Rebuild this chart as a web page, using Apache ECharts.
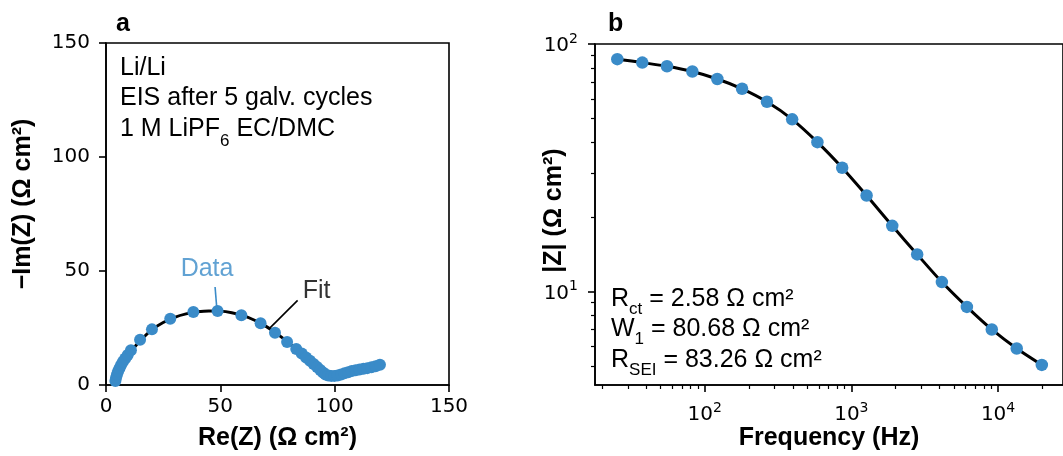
<!DOCTYPE html>
<html><head><meta charset="utf-8">
<script src="https://cdn.jsdelivr.net/npm/echarts@6/dist/echarts.min.js"></script>
<style>html,body{margin:0;padding:0;background:#fff}#c{width:1063px;height:456px}</style>
</head><body><div id="c"></div>
<script>
// ---- Panel a: Nyquist ----
const nyqRe = [4.1,4.4,4.8,5.3,5.9,6.6,7.4,8.4,9.5,10.9,14.9,20.1,28.1,38.2,48.8,59.2,67.6,73.9,79.2,83.2,85.6,87.5,89.2,90.8,92.3,93.7,94.9,96.0,97.2,98.5,99.9,101.3,102.8,104.3,105.9,107.5,109.2,110.9,112.6,114.3,116.1,117.9,119.8];
const nyqIm = [1.8,3.2,4.6,6.0,7.4,8.8,10.2,11.6,13.2,15.2,19.8,24.4,29.1,32.0,32.5,30.6,27.1,22.9,18.9,15.8,13.8,12.1,10.6,9.2,7.9,6.6,5.5,4.6,4.2,4.0,4.0,4.2,4.6,5.1,5.6,6.1,6.5,6.8,7.1,7.4,7.8,8.2,8.9];
const fitRe = [3.9,4.3,5.0,6.0,7.5,9.5,12,15,20,25,30,35,40,45,50,55,60,65,70,75,80,85,90,94,97,100,104,108,112,116,120];
const fitIm = [0.8,2.8,5.2,7.8,10.4,13.0,16.0,19.5,24.2,27.4,29.7,31.2,32.1,32.5,32.4,31.7,30.4,28.4,25.7,22.3,18.4,14.2,9.6,6.2,4.3,3.9,4.8,6.2,7.1,7.9,8.9];
const nyqTicks = [0,50,100,150];
const annotText = ['Data','Fit'];
const annotTextPos = [[44.2,50.9],[92.1,41.2]];
const annotLeaders = [[[47.7,43.0],[48.4,34.3]], [[83.8,37.1],[71.4,24.7]]];
const infoA = ['Li/Li','EIS after 5 galv. cycles',['1 M LiPF','6',' EC/DMC']];

// ---- Panel b: Bode |Z| ----
const bodeFreq = [25.4,37.6,55.4,82.5,122,180,266,395,587,866,1270,1900,2810,4140,6130,9060,13400,19860];
const bodeZ = [86.8,84.1,81.3,77.4,72.2,65.9,58.4,49.6,40.1,31.6,24.4,18.4,14.1,10.9,8.65,7.01,5.87,5.04];
const bodeFitZ = [86.8,84.1,81.3,77.4,72.2,65.9,58.4,49.6,40.1,31.6,24.4,18.4,14.1,10.9,8.65,7.01,5.87,5.04];
const bodeXMajor = [100,1000,10000];
const bodeXMinor = [20,30,40,50,60,70,80,90,200,300,400,500,600,700,800,900,2000,3000,4000,5000,6000,7000,8000,9000,20000];
const bodeYMajor = [10,100];
const bodeYMinor = [5,6,7,8,9,20,30,40,50,60,70,80,90];
const bodeXRange = [17.9,27700];
const bodeYRange = [4.18,100];
const infoB = [['R','ct',' = 2.58 Ω cm²'],['W','1',' = 80.68 Ω cm²'],['R','SEI',' = 83.26 Ω cm²']];

const BLUE = '#3a8bc8';
const SANS = 'Liberation Sans';
const TICKF = 'DejaVu Sans';
const chart = echarts.init(document.getElementById('c'), null, {renderer:'canvas'});

const axLine = {show:true, onZero:false, lineStyle:{color:'#000', width:1.6}};
const majTick = {show:true, length:7, inside:false, lineStyle:{color:'#000', width:1.6}};
const minTick = {show:true, length:4, inside:false, lineStyle:{color:'#000', width:1.2}};
const tickLbl = {color:'#000', fontFamily:TICKF, fontSize:20};
const nameSt = {color:'#000', fontFamily:SANS, fontWeight:'bold', fontSize:25};
const powRich = {
  m:{fontFamily:TICKF, fontSize:20, color:'#000', lineHeight:24, verticalAlign:'bottom'},
  s:{fontFamily:TICKF, fontSize:14, color:'#000', lineHeight:14, verticalAlign:'top'}
};
const powFmt = v => '{m|10}{s|' + Math.round(Math.log10(v)) + '}';

const txtRich = (lineH) => ({
  m:{fontFamily:SANS, fontSize:25, color:'#000', lineHeight:26, verticalAlign:'top'},
  s:{fontFamily:SANS, fontSize:17, color:'#000', lineHeight:lineH, verticalAlign:'bottom'}
});

const graphics = [
  {type:'text', left:116, top:12, style:{text:'a', fontFamily:SANS, fontWeight:'bold', fontSize:25, fill:'#000'}},
  {type:'text', left:608, top:12, style:{text:'b', fontFamily:SANS, fontWeight:'bold', fontSize:25, fill:'#000'}},
  {type:'text', left:120, top:56, style:{text:'{m|'+infoA[0]+'}', rich:txtRich(26)}},
  {type:'text', left:120, top:86, style:{text:'{m|'+infoA[1]+'}', rich:txtRich(26)}},
  {type:'text', left:120, top:117, style:{text:'{m|'+infoA[2][0]+'}{s|'+infoA[2][1]+'}{m|'+infoA[2][2]+'}', rich:txtRich(33)}},
];
const infoBTops = [287, 317, 347.5];
infoB.forEach((p,i) => graphics.push({type:'text', left:611, top:infoBTops[i],
  style:{text:'{m|'+p[0]+'}{s|'+p[1]+'}{m|'+p[2]+'}', rich:txtRich(31)}}));

const option = {
  animation:false,
  backgroundColor:'#fff',
  grid:[
    {left:106, top:43, width:343, height:344, show:true, borderColor:'#000', borderWidth:1.6, containLabel:false},
    {left:595, top:44, width:480, height:343, show:true, borderColor:'#000', borderWidth:1.6, containLabel:false}
  ],
  xAxis:[
    {gridIndex:0, type:'value', min:0, max:150, interval:50, axisLine:axLine, axisTick:majTick,
     axisLabel:Object.assign({margin:12, customValues:nyqTicks}, tickLbl), splitLine:{show:false},
     name:'Re(Z) (Ω cm²)', nameLocation:'middle', nameGap:41, nameMoveOverlap:false, nameTextStyle:nameSt},
    {gridIndex:1, type:'log', logBase:10, min:bodeXRange[0], max:bodeXRange[1], axisLine:axLine,
     axisTick:Object.assign({customValues:bodeXMajor}, majTick),
     axisLabel:{margin:16, customValues:bodeXMajor, formatter:powFmt, rich:powRich},
     splitLine:{show:false}, minorTick:{show:false},
     name:'Frequency (Hz)', nameLocation:'middle', nameGap:41, nameMoveOverlap:false, nameTextStyle:nameSt},
    {gridIndex:1, type:'log', logBase:10, min:bodeXRange[0], max:bodeXRange[1], position:'bottom',
     axisLine:{show:false}, axisTick:Object.assign({customValues:bodeXMinor}, minTick),
     axisLabel:{show:false}, splitLine:{show:false}}
  ],
  yAxis:[
    {gridIndex:0, type:'value', min:0, max:150, interval:50, axisLine:axLine, axisTick:majTick,
     axisLabel:Object.assign({margin:16, customValues:nyqTicks}, tickLbl), splitLine:{show:false},
     name:'−Im(Z) (Ω cm²)', nameLocation:'middle', nameGap:70, nameMoveOverlap:false,
     nameTextStyle:Object.assign({padding:[0,0,0,20]}, nameSt)},
    {gridIndex:1, type:'log', logBase:10, min:bodeYRange[0], max:bodeYRange[1], axisLine:axLine,
     axisTick:Object.assign({customValues:bodeYMajor}, majTick),
     axisLabel:{margin:17, customValues:bodeYMajor, formatter:powFmt, rich:powRich},
     splitLine:{show:false}, minorTick:{show:false},
     name:'|Z| (Ω cm²)', nameLocation:'middle', nameGap:28, nameMoveOverlap:false,
     nameTextStyle:Object.assign({padding:[0,0,0,8]}, nameSt)},
    {gridIndex:1, type:'log', logBase:10, min:bodeYRange[0], max:bodeYRange[1], position:'left',
     axisLine:{show:false}, axisTick:Object.assign({customValues:bodeYMinor}, minTick),
     axisLabel:{show:false}, splitLine:{show:false}}
  ],
  series:[
    {type:'line', name:'Fit', xAxisIndex:0, yAxisIndex:0, data:fitRe.map((x,i)=>[x,fitIm[i]]),
     symbol:'none', smooth:0.3, lineStyle:{color:'#000', width:3}, z:2, silent:true},
    {type:'scatter', name:'Data', xAxisIndex:0, yAxisIndex:0, data:nyqRe.map((x,i)=>[x,nyqIm[i]]),
     symbolSize:12, itemStyle:{color:BLUE, opacity:1}, z:3},
    {type:'line', xAxisIndex:0, yAxisIndex:0, data:annotLeaders[0], symbol:'none',
     lineStyle:{color:BLUE, width:1.6}, z:4, silent:true},
    {type:'line', xAxisIndex:0, yAxisIndex:0, data:annotLeaders[1], symbol:'none',
     lineStyle:{color:'#000', width:1.6}, z:4, silent:true},
    {type:'scatter', xAxisIndex:0, yAxisIndex:0, symbolSize:0, silent:true, z:5,
     data:annotTextPos.map((p,i)=>({value:p, name:annotText[i],
       label:{show:true, position:'inside', formatter:'{b}', fontFamily:SANS, fontSize:25,
              color: i===0 ? BLUE : '#000'}}))},
    {type:'line', name:'Fit b', xAxisIndex:1, yAxisIndex:1, data:bodeFreq.map((f,i)=>[f,bodeFitZ[i]]),
     symbol:'none', smooth:0.3, lineStyle:{color:'#000', width:3}, z:2, silent:true},
    {type:'scatter', name:'Data b', xAxisIndex:1, yAxisIndex:1, data:bodeFreq.map((f,i)=>[f,bodeZ[i]]),
     symbolSize:12.5, itemStyle:{color:BLUE, opacity:1}, z:3}
  ],
  graphic:graphics
};
chart.setOption(option);
</script></body></html>
